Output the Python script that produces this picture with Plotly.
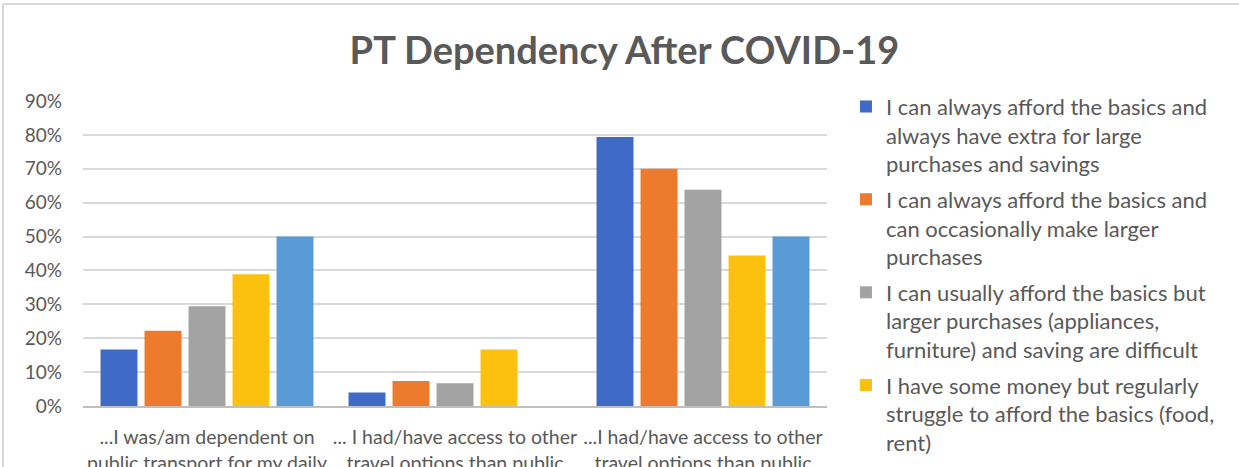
import plotly.graph_objects as go

categories = [
    "...I was/am dependent on<br>public transport for my daily<br>travel",
    "... I had/have access to other<br>travel options than public<br>transport",
    "...I had/have access to other<br>travel options than public<br>transport",
]

series_names = [
    "I can always afford the basics and<br>always have extra for large<br>purchases and savings",
    "I can always afford the basics and<br>can occasionally make larger<br>purchases",
    "I can usually afford the basics but<br>larger purchases (appliances,<br>furniture) and saving are difficult",
    "I have some money but regularly<br>struggle to afford the basics (food,<br>rent)",
    "I do not have enough money for<br>the basics (food, rent)",
]

always_extra = [0.167, 0.040, 0.794]
occasionally_larger = [0.222, 0.074, 0.700]
usually_basics = [0.294, 0.067, 0.638]
struggle_basics = [0.389, 0.167, 0.444]
not_enough = [0.500, None, 0.500]

series_values = [always_extra, occasionally_larger, usually_basics, struggle_basics, not_enough]
series_colors = ["#3F6AC6", "#EE7A2E", "#A3A3A3", "#FCC00E", "#5A9AD6"]

y_ticks = [0, 0.1, 0.2, 0.3, 0.4, 0.5, 0.6, 0.7, 0.8, 0.9]
y_tick_labels = ["0%", "10%", "20%", "30%", "40%", "50%", "60%", "70%", "80%", "90%"]

TXT = "#595959"
FONT = "Lato, Calibri, Carlito, sans-serif"

fig = go.Figure()
for i, (name, vals, col) in enumerate(zip(series_names, series_values, series_colors)):
    fig.add_trace(go.Bar(
        x=categories, y=vals, name=name, legendgroup=f"g{i}",
        marker=dict(color=col, line=dict(width=0)),
    ))

fig.update_layout(
    width=1239, height=467,
    margin=dict(l=83, r=412, t=101, b=61, autoexpand=False),
    paper_bgcolor="white", plot_bgcolor="white",
    font=dict(family=FONT, color=TXT),
    title=dict(text="<b>PT Dependency After COVID-19</b>", x=0.504, xanchor="center",
               y=1 - 51 / 467, yanchor="middle",
               font=dict(size=38, color=TXT, family=FONT)),
    barmode="group", bargap=0.113, bargroupgap=0.16,
    showlegend=True,
    legend=dict(x=1.0255, xanchor="left", y=1.05, yanchor="top",
                font=dict(size=22, color=TXT, family=FONT),
                itemwidth=30, valign="top", maxheight=700, tracegroupgap=4,
                bgcolor="rgba(0,0,0,0)"),
    shapes=[
        dict(type="line", xref="paper", yref="paper", x0=-0.1075, x1=1.6, y0=1.318, y1=1.318,
             line=dict(color="#D9D9D9", width=2)),
        dict(type="line", xref="paper", yref="paper", x0=-0.1075, x1=-0.1075, y0=-0.3, y1=1.318,
             line=dict(color="#D9D9D9", width=2)),
    ],
)

fig.update_xaxes(
    type="category", tickangle=0, showgrid=False, automargin=False,
    showline=True, linecolor="#BFBFBF", linewidth=2,
    ticks="", ticklabelstandoff=13,
    tickfont=dict(size=19.5, color=TXT, family=FONT),
)
fig.update_yaxes(
    range=[0, 0.9], tickvals=y_ticks, ticktext=y_tick_labels, automargin=False,
    showgrid=True, gridcolor="#D9D9D9", gridwidth=2,
    zeroline=False, showline=False, ticks="", ticklabelstandoff=20,
    tickfont=dict(size=19, color=TXT, family=FONT),
)

fig.write_html(
    "out.html",
    config={"displayModeBar": False},
    post_script="document.body.style.margin='0';document.body.style.overflow='hidden';",
)
